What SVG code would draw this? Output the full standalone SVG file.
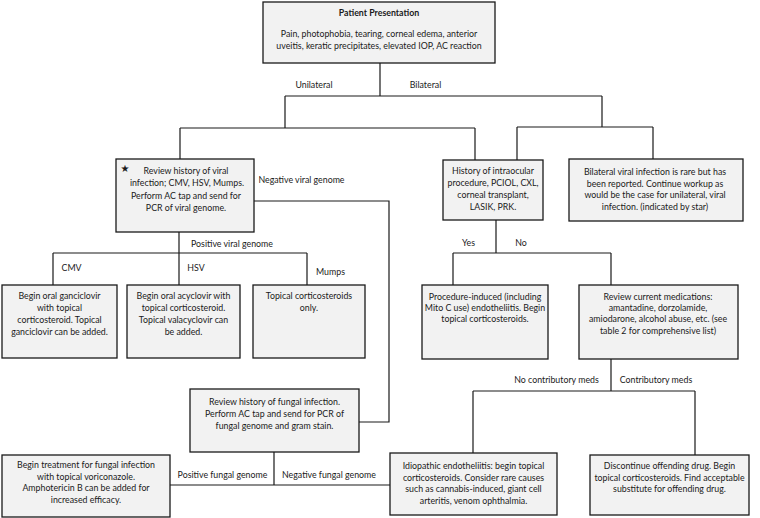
<svg xmlns="http://www.w3.org/2000/svg" width="760" height="518" viewBox="0 0 760 518">
<style>
.box{fill:#f2f2f2;stroke:#1a1a1a;stroke-width:1.3}
.t{font-family:Lato,"Open Sans","Liberation Sans",sans-serif;font-size:8.8px;fill:#1a1a1a;text-anchor:middle}
.l{font-family:Lato,"Open Sans","Liberation Sans",sans-serif;font-size:8.8px;fill:#1a1a1a;text-anchor:middle}
.b{font-weight:bold}
.c{fill:none;stroke:#1a1a1a;stroke-width:1.2}
</style>
<rect width="760" height="518" fill="#ffffff"/>
<g id="connectors">
<path class="c" d="M380 63V96M285 96H602M285 96V128M180 128H475M180 128V159M475 128V160M602 96V127M517 127H653M517 127V160M653 127V159"/>
<path class="c" d="M179 232V253M53 253H307M53 253V285M179 253V285M307 253V285"/>
<path class="c" d="M254 201H389V422H359"/>
<path class="c" d="M496 220V253M453 253H611M453 253V285M611 253V285"/>
<path class="c" d="M611 359V391M473 391H695M473 391V453M695 391V455"/>
<path class="c" d="M274 452V485M170 485H390"/>
<text class="l" x="314" y="88">Unilateral</text>
<text class="l" x="425.5" y="88">Bilateral</text>
<text class="l" x="301.5" y="183">Negative viral genome</text>
<text class="l" x="232" y="247">Positive viral genome</text>
<text class="l" x="71.5" y="271">CMV</text>
<text class="l" x="196" y="271">HSV</text>
<text class="l" x="330.5" y="275">Mumps</text>
<text class="l" x="468.5" y="246">Yes</text>
<text class="l" x="521" y="246">No</text>
<text class="l" x="556.5" y="383">No contributory meds</text>
<text class="l" x="656" y="383">Contributory meds</text>
<text class="l" x="222.5" y="478">Positive fungal genome</text>
<text class="l" x="329" y="478">Negative fungal genome</text>
</g>
<g id="presentation">
<rect class="box" x="263" y="2" width="232" height="61"/>
<text class="t b" x="379" y="16">Patient Presentation</text>
<text class="t" x="379" y="37">Pain, photophobia, tearing, corneal edema, anterior</text>
<text class="t" x="379" y="49">uveitis, keratic precipitates, elevated IOP, AC reaction</text>
</g>
<g id="viral">
<rect class="box" x="116" y="159" width="138" height="73"/>
<text x="125" y="172" style="font-family:'DejaVu Sans',sans-serif;font-size:10px;fill:#1a1a1a;text-anchor:middle">★</text>
<text class="t" x="186" y="173.5">Review history of viral</text>
<text class="t" x="187" y="186">infection; CMV, HSV, Mumps.</text>
<text class="t" x="186" y="198.5">Perform AC tap and send for</text>
<text class="t" x="186" y="211">PCR of viral genome.</text>
</g>
<g id="intraocular">
<rect class="box" x="443" y="160" width="100" height="60"/>
<text class="t" x="493" y="174">History of intraocular</text>
<text class="t" x="493" y="186">procedure, PCIOL, CXL,</text>
<text class="t" x="493" y="198">corneal transplant,</text>
<text class="t" x="493" y="210">LASIK, PRK.</text>
</g>
<g id="bilateral">
<rect class="box" x="569" y="159" width="174" height="62"/>
<text class="t" x="655" y="175">Bilateral viral infection is rare but has</text>
<text class="t" x="655" y="187">been reported. Continue workup as</text>
<text class="t" x="655" y="198">would be the case for unilateral, viral</text>
<text class="t" x="655" y="210">infection. (indicated by star)</text>
</g>
<g id="cmv">
<rect class="box" x="2" y="285" width="115" height="73"/>
<text class="t" x="59.5" y="299">Begin oral ganciclovir</text>
<text class="t" x="59.5" y="311">with topical</text>
<text class="t" x="59.5" y="323">corticosteroid. Topical</text>
<text class="t" x="59.5" y="335">ganciclovir can be added.</text>
</g>
<g id="hsv">
<rect class="box" x="127" y="285" width="113" height="73"/>
<text class="t" x="183.5" y="299">Begin oral acyclovir with</text>
<text class="t" x="183.5" y="311">topical corticosteroid.</text>
<text class="t" x="183.5" y="323">Topical valacyclovir can</text>
<text class="t" x="183.5" y="335">be added.</text>
</g>
<g id="mumps">
<rect class="box" x="253" y="285" width="112" height="73"/>
<text class="t" x="309" y="299">Topical corticosteroids</text>
<text class="t" x="309" y="311">only.</text>
</g>
<g id="procedure">
<rect class="box" x="422" y="285" width="126" height="74"/>
<text class="t" x="485" y="300">Procedure-induced (including</text>
<text class="t" x="485" y="311">Mito C use) endotheliitis. Begin</text>
<text class="t" x="485" y="322">topical corticosteroids.</text>
</g>
<g id="medications">
<rect class="box" x="579" y="285" width="159" height="74"/>
<text class="t" x="658" y="300">Review current medications:</text>
<text class="t" x="658" y="311">amantadine, dorzolamide,</text>
<text class="t" x="658" y="322">amiodarone, alcohol abuse, etc. (see</text>
<text class="t" x="658" y="334">table 2 for comprehensive list)</text>
</g>
<g id="fungal-review">
<rect class="box" x="190" y="389" width="169" height="63"/>
<text class="t" x="274.5" y="405">Review history of fungal infection.</text>
<text class="t" x="274.5" y="417">Perform AC tap and send for PCR of</text>
<text class="t" x="274.5" y="429">fungal genome and gram stain.</text>
</g>
<g id="fungal-treatment">
<rect class="box" x="2" y="455" width="168" height="62"/>
<text class="t" x="86" y="468">Begin treatment for fungal infection</text>
<text class="t" x="86" y="480">with topical voriconazole.</text>
<text class="t" x="86" y="491">Amphotericin B can be added for</text>
<text class="t" x="86" y="503">increased efficacy.</text>
</g>
<g id="idiopathic">
<rect class="box" x="390" y="453" width="167" height="62"/>
<text class="t" x="473.5" y="469">Idiopathic endotheliitis: begin topical</text>
<text class="t" x="473.5" y="481">corticosteroids. Consider rare causes</text>
<text class="t" x="473.5" y="492">such as cannabis-induced, giant cell</text>
<text class="t" x="473.5" y="504">arteritis, venom ophthalmia.</text>
</g>
<g id="discontinue">
<rect class="box" x="590" y="455" width="159" height="60"/>
<text class="t" x="669.5" y="469">Discontinue offending drug. Begin</text>
<text class="t" x="669.5" y="481">topical corticosteroids. Find acceptable</text>
<text class="t" x="669.5" y="492">substitute for offending drug.</text>
</g>
</svg>
